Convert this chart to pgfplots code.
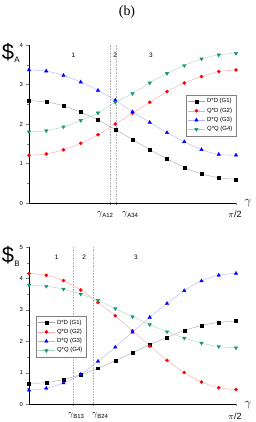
\documentclass[border=0pt]{standalone}
\usepackage{pgfplots}
\pgfplotsset{compat=1.18}
\usepackage{fontspec}
\setmainfont{Liberation Sans}
\newfontfamily\seriffont{Liberation Serif}
\definecolor{gfour}{RGB}{20,150,110}
\begin{document}
\begin{tikzpicture}[x=1bp,y=1bp]
\path[use as bounding box] (0,0) rectangle (256,422);
\node at (127,410) {\seriffont\fontsize{14}{14}\selectfont (b)};
\pgfplotsset{
  myax/.style={
    scale only axis, width=207bp,
    axis lines*=left, tick align=outside,
    xmin=0, xmax=12, ymin=0,
    tick label style={font=\fontsize{6}{6.5}\selectfont},
    /pgf/number format/assume math mode=true,
    minor y tick num=1,
    major tick length=2.5bp, minor tick length=1.5bp,
    xticklabels={}, axis line style={black, line width=0.5pt},
    legend cell align=left,
    legend style={draw=gray, line width=0.3pt, font=\fontsize{6}{6.5}\selectfont, inner sep=1.5pt, row sep=-0.5pt},
  },
  g1/.style={gray!70, line width=0.4pt, smooth, mark=square*, mark size=1.5, mark options={black, fill=black}},
  g2/.style={red!35, line width=0.4pt, smooth, mark=*, mark size=1.6, mark options={red, fill=red}},
  g3/.style={blue!30, line width=0.4pt, smooth, mark=triangle*, mark size=2, mark options={blue, fill=blue}},
  g4/.style={gfour!40, line width=0.4pt, smooth, mark=triangle*, mark size=2, mark options={gfour, fill=gfour, rotate=180}},
  vl/.style={gray!60, densely dotted, line width=0.6pt, forget plot},
}
% top panel
\begin{axis}[myax, at={(29bp,219bp)}, height=158bp, ymax=4,
  ytick={0,1,2,3,4}, xtick={4.7,5.05,12},
  legend style={at={(1,0.684)}, anchor=north east}]
\addplot[vl] coordinates {(4.7,0) (4.7,4)};
\addplot[vl] coordinates {(5.05,0) (5.05,4)};
\addplot[g1] coordinates {(0,2.59)(1,2.56)(2,2.46)(3,2.30)(4,2.10)(5,1.86)(6,1.61)(7,1.35)(8,1.12)(9,0.90)(10,0.74)(11,0.64)(12,0.60)};
\addplot[g2] coordinates {(0,1.21)(1,1.24)(2,1.35)(3,1.51)(4,1.73)(5,2.00)(6,2.27)(7,2.55)(8,2.82)(9,3.04)(10,3.20)(11,3.33)(12,3.37)};
\addplot[g3] coordinates {(0,3.37)(1,3.34)(2,3.23)(3,3.06)(4,2.85)(5,2.60)(6,2.31)(7,2.04)(8,1.78)(9,1.55)(10,1.35)(11,1.23)(12,1.21)};
\addplot[g4] coordinates {(0,1.80)(1,1.83)(2,1.93)(3,2.09)(4,2.28)(5,2.55)(6,2.77)(7,3.04)(8,3.28)(9,3.48)(10,3.65)(11,3.75)(12,3.79)};
\legend{D*D (G1),Q*D (G2),D*Q (G3),Q*Q (G4)}
\node[font=\fontsize{6.5}{7}\selectfont] at (axis cs:2.57,3.75) {1};
\node[font=\fontsize{6.5}{7}\selectfont] at (axis cs:5.0,3.75) {2};
\node[font=\fontsize{6.5}{7}\selectfont] at (axis cs:7.07,3.75) {3};
\end{axis}
\node[font=\fontsize{22}{22}\selectfont] at (8,370) {\$};
\node[font=\fontsize{8}{8}\selectfont] at (17,362) {A};
\node[font=\fontsize{12}{12}\selectfont] at (248,219) {$\gamma$};
\node[font=\fontsize{9}{9}\selectfont] at (235,208) {$\pi$/2};
\node at (105,207) {\fontsize{9}{9}\selectfont$\gamma$\raisebox{-2bp}{\fontsize{6}{6}\selectfont A12}};
\node at (130,207) {\fontsize{9}{9}\selectfont$\gamma$\raisebox{-2bp}{\fontsize{6}{6}\selectfont A34}};
% bottom panel
\begin{axis}[myax, at={(29bp,18bp)}, height=157bp, ymax=5,
  ytick={0,1,2,3,4,5}, xtick={2.54,3.70,12},
  legend style={at={(0.034,0.56)}, anchor=north west}]
\addplot[vl] coordinates {(2.54,0) (2.54,5)};
\addplot[vl] coordinates {(3.70,0) (3.70,5)};
\addplot[g1] coordinates {(0,0.66)(1,0.68)(2,0.78)(3,0.93)(4,1.14)(5,1.38)(6,1.63)(7,1.89)(8,2.12)(9,2.34)(10,2.50)(11,2.60)(12,2.64)};
\addplot[g2] coordinates {(0,4.16)(1,4.10)(2,3.93)(3,3.63)(4,3.23)(5,2.81)(6,2.33)(7,1.85)(8,1.39)(9,1.00)(10,0.70)(11,0.52)(12,0.46)};
\addplot[g3] coordinates {(0,0.44)(1,0.50)(2,0.67)(3,0.94)(4,1.36)(5,1.81)(6,2.29)(7,2.76)(8,3.20)(9,3.61)(10,3.92)(11,4.10)(12,4.16)};
\addplot[g4] coordinates {(0,3.79)(1,3.75)(2,3.66)(3,3.50)(4,3.30)(5,3.04)(6,2.78)(7,2.53)(8,2.30)(9,2.10)(10,1.94)(11,1.83)(12,1.79)};
\legend{D*D (G1),Q*D (G2),D*Q (G3),Q*Q (G4)}
\node[font=\fontsize{6.5}{7}\selectfont] at (axis cs:1.6,4.66) {1};
\node[font=\fontsize{6.5}{7}\selectfont] at (axis cs:3.2,4.66) {2};
\node[font=\fontsize{6.5}{7}\selectfont] at (axis cs:6.2,4.66) {3};
\end{axis}
\node[font=\fontsize{22}{22}\selectfont] at (8,167) {\$};
\node[font=\fontsize{8}{8}\selectfont] at (17,158) {B};
\node[font=\fontsize{12}{12}\selectfont] at (248,17) {$\gamma$};
\node[font=\fontsize{9}{9}\selectfont] at (235,6) {$\pi$/2};
\node at (76,6) {\fontsize{9}{9}\selectfont$\gamma$\raisebox{-2bp}{\fontsize{6}{6}\selectfont B13}};
\node at (100,6) {\fontsize{9}{9}\selectfont$\gamma$\raisebox{-2bp}{\fontsize{6}{6}\selectfont B24}};
\end{tikzpicture}
\end{document}
